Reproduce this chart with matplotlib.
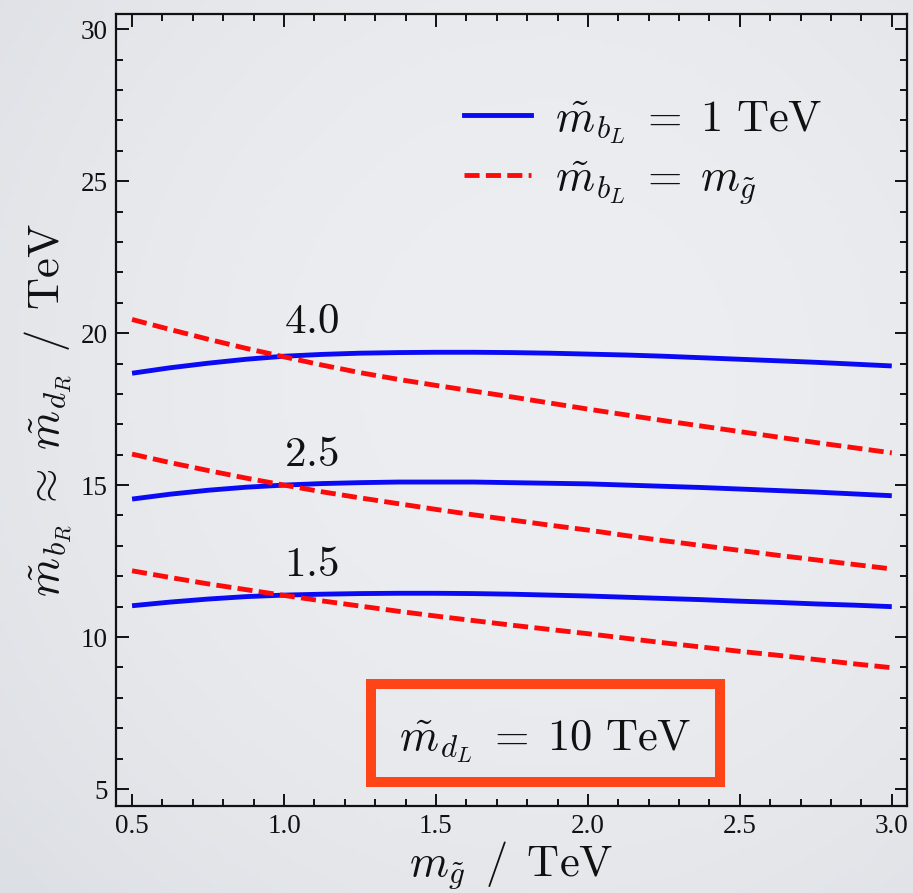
import numpy as np
import matplotlib
matplotlib.use("Agg")
import matplotlib.pyplot as plt
from matplotlib.patches import Rectangle
from matplotlib.lines import Line2D

# ---------------- data ----------------
m_gluino = [0.5, 0.625, 0.75, 0.875, 1.0, 1.125, 1.25, 1.375, 1.5, 1.625, 1.75,
            1.875, 2.0, 2.125, 2.25, 2.375, 2.5, 2.625, 2.75, 2.875, 3.0]

blue_40 = [18.68, 18.86, 19.01, 19.14, 19.24, 19.30, 19.34, 19.36, 19.37, 19.37, 19.36,
           19.34, 19.31, 19.28, 19.24, 19.19, 19.14, 19.09, 19.04, 18.98, 18.92]
red_40 = [20.45, 20.12, 19.80, 19.50, 19.22, 18.95, 18.70, 18.48, 18.28, 18.09, 17.90,
          17.70, 17.50, 17.31, 17.12, 16.94, 16.76, 16.58, 16.40, 16.23, 16.06]

blue_25 = [14.54, 14.70, 14.83, 14.93, 15.00, 15.05, 15.08, 15.10, 15.10, 15.10, 15.08,
           15.06, 15.04, 15.00, 14.96, 14.92, 14.87, 14.82, 14.77, 14.71, 14.65]
red_25 = [16.02, 15.74, 15.48, 15.23, 15.00, 14.78, 14.58, 14.39, 14.20, 14.02, 13.85,
          13.68, 13.52, 13.34, 13.17, 13.01, 12.85, 12.69, 12.54, 12.39, 12.24]

blue_15 = [11.03, 11.15, 11.25, 11.33, 11.38, 11.41, 11.43, 11.44, 11.44, 11.43, 11.41,
           11.38, 11.35, 11.31, 11.27, 11.23, 11.18, 11.14, 11.09, 11.05, 11.00]
red_15 = [12.18, 11.96, 11.75, 11.56, 11.37, 11.19, 11.02, 10.85, 10.69, 10.54, 10.39,
          10.25, 10.11, 9.96, 9.81, 9.67, 9.53, 9.40, 9.26, 9.12, 8.99]

curve_labels = ["4.0", "2.5", "1.5"]
label_pos = [(1.0, 20.0), (1.0, 15.63), (1.0, 12.0)]

x_ticks = [0.5, 1.0, 1.5, 2.0, 2.5, 3.0]
x_ticklabels = ["0.5", "1.0", "1.5", "2.0", "2.5", "3.0"]
y_ticks = [5, 10, 15, 20, 25, 30]
y_ticklabels = ["5", "10", "15", "20", "25", "30"]

legend_labels = [r"$\tilde{m}_{b_L}\;=\;1\ \mathrm{TeV}$", r"$\tilde{m}_{b_L}\;=\;m_{\tilde{g}}$"]
box_text = r"$\tilde{m}_{d_L}\;=\;10\ \mathrm{TeV}$"

# ---------------- style ----------------
plt.rcParams['mathtext.fontset'] = 'cm'
plt.rcParams['font.family'] = ['Liberation Serif', 'DejaVu Serif']

W, H = 913, 893
fig = plt.figure(figsize=(W / 100, H / 100), dpi=100)

# background vignette
bg = fig.add_axes([0, 0, 1, 1], zorder=-10)
yy, xx = np.mgrid[0:1:200j, 0:1:200j]
r = np.sqrt(((xx - 0.6) / 0.8) ** 2 + ((yy - 0.58) / 0.85) ** 2)
shade = np.clip(r, 0, 1) ** 2
c_in = np.array([237, 238, 241]) / 255.0
c_out = np.array([220, 223, 228]) / 255.0
img = c_in[None, None, :] * (1 - shade[..., None]) + c_out[None, None, :] * shade[..., None]
bg.imshow(img, extent=[0, 1, 0, 1], aspect='auto', origin='lower')
bg.axis('off')

ax = fig.add_axes([0.127, 0.0974, 0.8664, 0.8869])
ax.set_facecolor('none')

blue = '#0a0af5'
red = '#ff0a0a'
lw = 3.5
dash = (3.1, 1.3)

for b, rr in [(blue_40, red_40), (blue_25, red_25), (blue_15, red_15)]:
    ax.plot(m_gluino, b, color=blue, lw=lw, solid_capstyle='butt', zorder=3)
    ax.plot(m_gluino, rr, color=red, lw=lw, dashes=dash, dash_capstyle='butt', zorder=4)

for lab, (px, py) in zip(curve_labels, label_pos):
    ax.text(px, py, "$" + lab + "$", fontsize=31, ha='left', va='baseline', color='#111111')

ax.set_xlim(0.447, 3.05)
ax.set_ylim(4.44, 30.5)

ax.set_xticks(x_ticks)
ax.set_xticklabels(x_ticklabels)
ax.set_yticks(y_ticks)
ax.set_yticklabels(y_ticklabels)
ax.set_xticks(np.arange(0.5, 3.01, 0.1), minor=True)
ax.set_yticks(np.arange(5, 30.1, 1), minor=True)

ax.tick_params(which='both', direction='in', top=True, right=True, width=1.4, colors='#111111',
               labelsize=19.5, pad=6)
ax.tick_params(which='major', length=9)
ax.tick_params(which='minor', length=5)
for s in ax.spines.values():
    s.set_linewidth(1.6)
    s.set_color('#111111')

# legend
handles = [Line2D([0], [0], color=blue, lw=lw),
           Line2D([0], [0], color=red, lw=lw, dashes=dash)]
leg = ax.legend(handles, legend_labels, loc='upper left', bbox_to_anchor=(0.44, 0.893),
                frameon=False, fontsize=32, handlelength=1.5, handletextpad=0.55,
                labelspacing=0.3, borderpad=0.0, borderaxespad=0.0)
for t in leg.get_texts():
    t.set_color('#111111')

# boxed annotation
rect = Rectangle((1.286, 5.23), 2.434 - 1.286, 8.45 - 5.23, fill=False,
                 edgecolor='#ff4418', lw=7.2, zorder=5)
ax.add_patch(rect)
ax.text(1.86, 6.28, box_text, fontsize=32, ha='center', va='baseline', color='#111111', zorder=6)

ax.set_xlabel(r"$m_{\tilde{g}}\ \,/\ \,\mathrm{TeV}$", fontsize=32, color='#111111', labelpad=0)
ax.set_ylabel(r"$\tilde{m}_{b_R}\;\approx\;\tilde{m}_{d_R}\ \,/\ \,\mathrm{TeV}$", fontsize=32,
              color='#111111', labelpad=4)

fig.savefig("out.png", dpi=100)
